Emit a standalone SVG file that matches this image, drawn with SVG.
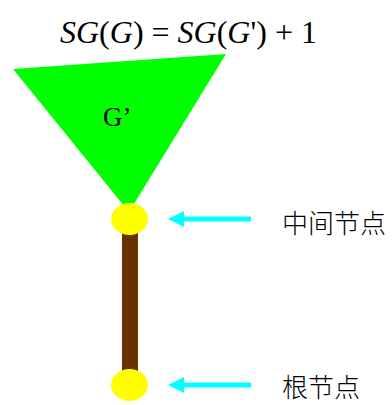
<svg xmlns="http://www.w3.org/2000/svg" width="392" height="405" viewBox="0 0 392 405">
<style>
.math{font-family:"Liberation Serif",serif;font-size:32px;fill:#000}
.it{font-style:italic}
.cn{font-family:"Noto Sans CJK SC",sans-serif;font-size:26px;font-weight:300;fill:#000}
.node{fill:#FFFF00}
.arrow{stroke:#00FFFF;stroke-width:5;fill:none}
.head{fill:#00FFFF}
</style>
<text class="math" x="60" y="43"><tspan class="it">SG</tspan>(<tspan class="it">G</tspan>) = <tspan class="it">SG</tspan>(<tspan class="it">G</tspan>') + 1</text>
<g id="subtree">
<polygon points="13,69 226,54 129,212" fill="#00FF00"/>
<text x="103" y="126" font-family="Liberation Serif, serif" font-size="27">G’</text>
</g>
<g id="connectors">
<rect x="122" y="219" width="16" height="166" fill="#663300"/>
<line class="arrow" x1="251" y1="219" x2="182" y2="219"/>
<polygon class="head" points="168,219 184,211 184,227"/>
<line class="arrow" x1="251" y1="385" x2="182" y2="385"/>
<polygon class="head" points="168,385 184,377 184,393"/>
</g>
<g id="mid-node">
<ellipse class="node" cx="129.5" cy="219" rx="18.5" ry="16"/>
<text class="cn" x="282" y="233">中间节点</text>
</g>
<g id="root-node">
<ellipse class="node" cx="129.5" cy="385" rx="18.5" ry="16"/>
<text class="cn" x="282" y="397">根节点</text>
</g>
</svg>
